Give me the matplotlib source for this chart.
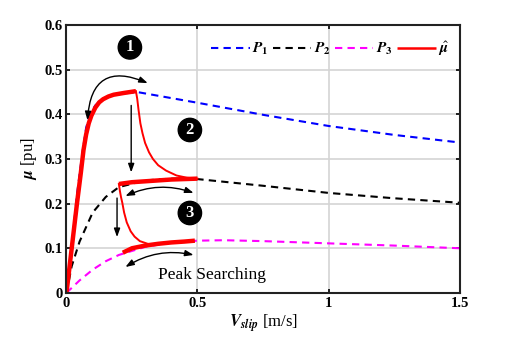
#!/usr/bin/env python3
import matplotlib
matplotlib.use('Agg')
import matplotlib.pyplot as plt

# friction curves
p1_x = [0, 0.02, 0.04, 0.06, 0.075, 0.09, 0.11, 0.14, 0.18, 0.22, 0.27, 0.5, 0.75, 1.0, 1.25, 1.5]
p1_y = [0, 0.10, 0.22, 0.31, 0.37, 0.40, 0.42, 0.435, 0.443, 0.447, 0.45, 0.426, 0.399, 0.374, 0.354, 0.337]

p2_x = [0, 0.02, 0.05, 0.1, 0.15, 0.2, 0.3, 0.4, 0.5, 0.75, 1.0, 1.25, 1.5]
p2_y = [0, 0.06, 0.115, 0.18, 0.215, 0.237, 0.252, 0.256, 0.255, 0.240, 0.224, 0.212, 0.202]

p3_x = [0, 0.05, 0.1, 0.15, 0.2, 0.3, 0.4, 0.5, 0.6, 0.75, 1.0, 1.25, 1.5]
p3_y = [0, 0.028, 0.052, 0.071, 0.085, 0.103, 0.113, 0.117, 0.118, 0.116, 0.111, 0.106, 0.100]

# estimated mu (peak searching), split in pieces
mu_rise_x = [0, 0.02, 0.04, 0.055, 0.065, 0.075, 0.085, 0.095, 0.11, 0.125, 0.14, 0.16, 0.18, 0.22, 0.265]
mu_rise_y = [0, 0.10, 0.20, 0.27, 0.32, 0.355, 0.38, 0.397, 0.415, 0.427, 0.434, 0.44, 0.444, 0.448, 0.452]
mu_drop1_x = [0.265, 0.27, 0.275, 0.282, 0.29, 0.30, 0.315, 0.33, 0.35, 0.38, 0.42, 0.46, 0.5]
mu_drop1_y = [0.452, 0.435, 0.41, 0.38, 0.358, 0.336, 0.315, 0.30, 0.286, 0.274, 0.263, 0.258, 0.256]
mu_plat2_x = [0.2, 0.25, 0.3, 0.35, 0.4, 0.45, 0.5]
mu_plat2_y = [0.244, 0.248, 0.250, 0.252, 0.254, 0.255, 0.256]
mu_drop2_x = [0.2, 0.204, 0.208, 0.213, 0.22, 0.23, 0.245, 0.26, 0.28, 0.31]
mu_drop2_y = [0.244, 0.228, 0.215, 0.202, 0.18, 0.158, 0.138, 0.126, 0.116, 0.11]
mu_plat3_x = [0.215, 0.25, 0.3, 0.35, 0.4, 0.45, 0.49]
mu_plat3_y = [0.09, 0.10, 0.106, 0.110, 0.113, 0.115, 0.117]

plt.rcParams['font.family'] = ['Liberation Serif', 'DejaVu Serif']
plt.rcParams['mathtext.fontset'] = 'stix'

fig = plt.figure(figsize=(5.09, 3.39), dpi=100)
ax = fig.add_axes([0.1306, 0.136, 0.7722, 0.790])

dash = (0, (3.5, 2.5))
ax.plot(p1_x, p1_y, color='#0000ff', lw=1.5, ls=dash, label=r'$\mathbfit{P}_\mathbf{1}$')
ax.plot(p2_x, p2_y, color='black', lw=1.5, ls=dash, label=r'$\mathbfit{P}_\mathbf{2}$')
ax.plot(p3_x, p3_y, color='#ff00ff', lw=1.5, ls=dash, label=r'$\mathbfit{P}_\mathbf{3}$')

red = '#ff0000'
ax.plot(mu_rise_x, mu_rise_y, color=red, lw=3.2, solid_capstyle='butt', label=r'$\hat{\mathbfit{\mu}}$')
ax.plot(mu_drop1_x, mu_drop1_y, color=red, lw=1.4)
ax.plot(mu_plat2_x, mu_plat2_y, color=red, lw=3.2, solid_capstyle='butt')
ax.plot(mu_drop2_x, mu_drop2_y, color=red, lw=1.4)
ax.plot(mu_plat3_x, mu_plat3_y, color=red, lw=3.2, solid_capstyle='butt')

# arrows
curved = dict(arrowstyle='<|-|>,head_length=0.5,head_width=0.18', color='black', lw=1.0,
              shrinkA=0, shrinkB=0)
ax.annotate('', xy=(0.31, 0.47), xytext=(0.08, 0.387),
            arrowprops=dict(curved, connectionstyle='arc3,rad=-0.7'))
ax.annotate('', xy=(0.485, 0.224), xytext=(0.225, 0.217),
            arrowprops=dict(curved, connectionstyle='arc3,rad=-0.2'))
ax.annotate('', xy=(0.485, 0.085), xytext=(0.225, 0.058),
            arrowprops=dict(curved, connectionstyle='arc3,rad=-0.2'))
straight = dict(arrowstyle='-|>,head_length=0.5,head_width=0.18', color='black', lw=1.0,
                shrinkA=0, shrinkB=0)
ax.annotate('', xy=(0.247, 0.27), xytext=(0.247, 0.42), arrowprops=straight)
ax.annotate('', xy=(0.193, 0.125), xytext=(0.193, 0.2125), arrowprops=straight)

# circled step numbers
for num, (tx, ty) in zip(['1', '2', '3'], [(0.242, 0.55), (0.471, 0.365), (0.471, 0.179)]):
    ax.text(tx, ty, num, color='white', fontsize=12, fontweight='bold',
            ha='center', va='center',
            bbox=dict(boxstyle='circle,pad=0.22', fc='black', ec='black'))

ax.text(0.555, 0.04, 'Peak Searching', fontsize=12.5, ha='center', va='center')

ax.set_xlim(0, 1.5)
ax.set_ylim(0, 0.6)
ax.set_xticks([0, 0.5, 1, 1.5])
ax.set_xticklabels(['0', '0.5', '1', '1.5'])
ax.set_yticks([0, 0.1, 0.2, 0.3, 0.4, 0.5, 0.6])
ax.set_yticklabels(['0', '0.1', '0.2', '0.3', '0.4', '0.5', '0.6'])
for lab in ax.get_xticklabels() + ax.get_yticklabels():
    lab.set_fontweight('bold')
    lab.set_fontsize(10.5)
ax.tick_params(direction='in', top=True, right=True, length=3, width=1.2, pad=3)
ax.grid(True, color='#d4d4d4', lw=1.2)
ax.set_axisbelow(True)
for sp in ax.spines.values():
    sp.set_linewidth(1.5)
    sp.set_color('#222222')

ax.set_xlabel(r'$\mathbfit{V}_{\mathbfit{slip}}$ [m/s]', fontsize=12, labelpad=2)
ax.set_ylabel(r'$\mathbfit{\mu}$ [pu]', fontsize=12, labelpad=4)

leg = ax.legend(loc='upper right', ncol=4, frameon=False, fontsize=11,
                handlelength=2.5, handletextpad=0.15, columnspacing=0.3,
                borderaxespad=0.3, bbox_to_anchor=(1.0, 0.985))
leg.get_lines()[3].set_linewidth(1.8)

fig.savefig('out.png', dpi=100)
